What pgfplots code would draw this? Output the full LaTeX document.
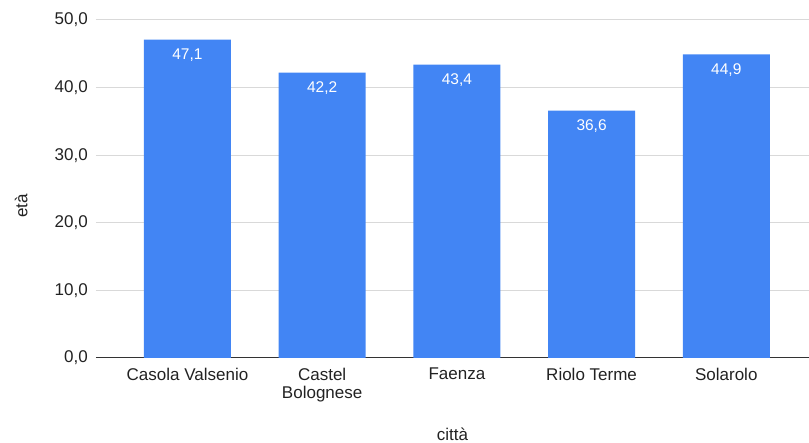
\documentclass[border=0pt]{standalone}
\usepackage{pgfplots}
\pgfplotsset{compat=1.18}
\usepackage{fontspec}
\setmainfont{Liberation Sans}
\definecolor{barblue}{HTML}{4285F4}
\definecolor{gridgray}{HTML}{D9D9D9}
\definecolor{txt}{HTML}{222222}
\begin{document}
\begin{tikzpicture}
\path[use as bounding box] (-96pt,-85pt) rectangle (713pt,358pt);
\begin{axis}[
  at={(0,0)}, anchor=south west,
  scale only axis,
  width=713pt, height=338pt,
  xmin=-0.679, xmax=4.614,
  ymin=0, ymax=50,
  ytick={0,10,20,30,40,50},
  xtick={0,1,2,3,4},
  xticklabels={Casola Valsenio,{Castel\\Bolognese},Faenza,Riolo Terme,Solarolo},
  axis y line*=left,
  y axis line style={draw=none},
  axis x line*=bottom,
  x axis line style={draw=black!80, line width=1pt, -},
  ymajorgrids,
  grid style={gridgray, line width=1pt},
  major tick length=0pt,
  tick style={draw=none},
  /pgf/number format/assume math mode=true,
  yticklabel={\pgfmathprintnumber[fixed,fixed zerofill,precision=1,use comma]{\tick}},
  yticklabel style={font=\fontsize{17}{18}\selectfont, text=txt, inner sep=0pt, anchor=east, xshift=-8pt},
  xticklabel style={font=\fontsize{17}{17.7}\selectfont, text=txt, inner sep=0pt, align=center, anchor=north, yshift=-10pt},
  xlabel={città},
  ylabel={età},
  xlabel style={font=\fontsize{17}{18}\selectfont, text=txt, at={(axis description cs:0.5,-0.225)}, anchor=center},
  ylabel style={font=\fontsize{17}{18}\selectfont, text=txt, at={(axis description cs:-0.105,0.45)}, anchor=center, rotate=0},
  ybar, bar width=0.646,
  nodes near coords={\pgfmathprintnumber[fixed,fixed zerofill,precision=1,use comma]{\pgfplotspointmeta}},
  nodes near coords style={font=\fontsize{15.5}{17}\selectfont, text=white, anchor=north, inner sep=0pt, yshift=-9pt},
]
\addplot[fill=barblue, draw=none] coordinates {(0,47.1) (1,42.2) (2,43.4) (3,36.6) (4,44.9)};
\end{axis}
\end{tikzpicture}
\end{document}
